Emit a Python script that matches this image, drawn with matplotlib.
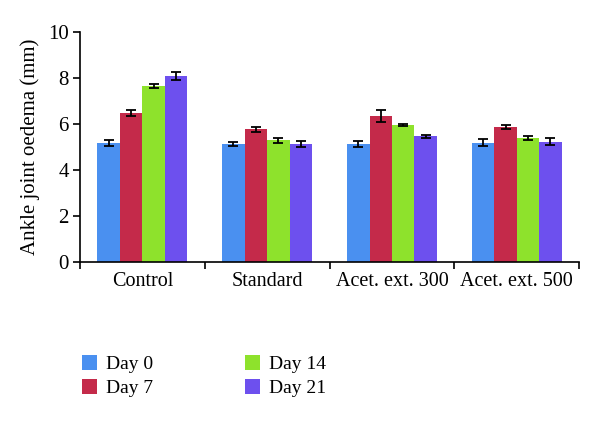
import numpy as np
import matplotlib.pyplot as plt
from matplotlib.patches import Patch

plt.rcParams["font.family"] = ["Liberation Serif", "DejaVu Serif"]

groups = ["Control", "Standard", "Acet. ext. 300", "Acet. ext. 500"]
series = ["Day 0", "Day 7", "Day 14", "Day 21"]
colors = ["#4a90f0", "#c42a4a", "#8ee22c", "#6d50ee"]

day0 = [5.17, 5.12, 5.13, 5.19]
day7 = [6.49, 5.77, 6.35, 5.86]
day14 = [7.65, 5.29, 5.96, 5.38]
day21 = [8.09, 5.13, 5.46, 5.23]

err0 = [0.14, 0.09, 0.12, 0.14]
err7 = [0.12, 0.12, 0.25, 0.08]
err14 = [0.07, 0.10, 0.05, 0.08]
err21 = [0.19, 0.14, 0.07, 0.16]

values = [day0, day7, day14, day21]
errors = [err0, err7, err14, err21]

fig = plt.figure(figsize=(6.0, 4.23), dpi=100)
ax = fig.add_axes([0.1333, 0.3806, 0.832, 0.5437])

x = np.arange(len(groups))
width = 0.18
for i, (vals, errs, col) in enumerate(zip(values, errors, colors)):
    pos = x + (i - 1.5) * width
    ax.bar(pos, vals, width, color=col, edgecolor="none", label=series[i])
    ax.errorbar(pos, vals, yerr=errs, fmt="none", ecolor="black",
                elinewidth=1.3, capsize=3.5, capthick=1.3)

ax.set_xlim(-0.5, len(groups) - 0.5)
ax.set_ylim(0, 10)
ax.set_yticks(range(0, 11, 2))
ax.set_xticks(np.arange(-0.5, len(groups), 1.0))
ax.set_xticklabels([])
ax.set_xticks(x, minor=True)
ax.set_xticklabels(groups, minor=True, fontsize=14.5)
ax.tick_params(axis="x", which="minor", length=0, pad=7)
ax.tick_params(axis="x", which="major", length=5, width=1.2, direction="out")
ax.tick_params(axis="y", length=5, width=1.2, direction="out", labelsize=15, pad=3)
for side in ["top", "right"]:
    ax.spines[side].set_visible(False)
for side in ["left", "bottom"]:
    ax.spines[side].set_linewidth(1.2)
ax.set_ylabel("Ankle joint oedema (mm)", fontsize=15, labelpad=6)

handles = [Patch(facecolor=c, edgecolor="none") for c in colors]
fig.legend(handles, series, loc="upper left", bbox_to_anchor=(0.137, 0.160),
           ncol=2, frameon=False, fontsize=14, handlelength=0.77, handleheight=0.77,
           handletextpad=0.45, columnspacing=4.75, labelspacing=0.3,
           borderaxespad=0, borderpad=0)

fig.savefig("out.png", dpi=100)
